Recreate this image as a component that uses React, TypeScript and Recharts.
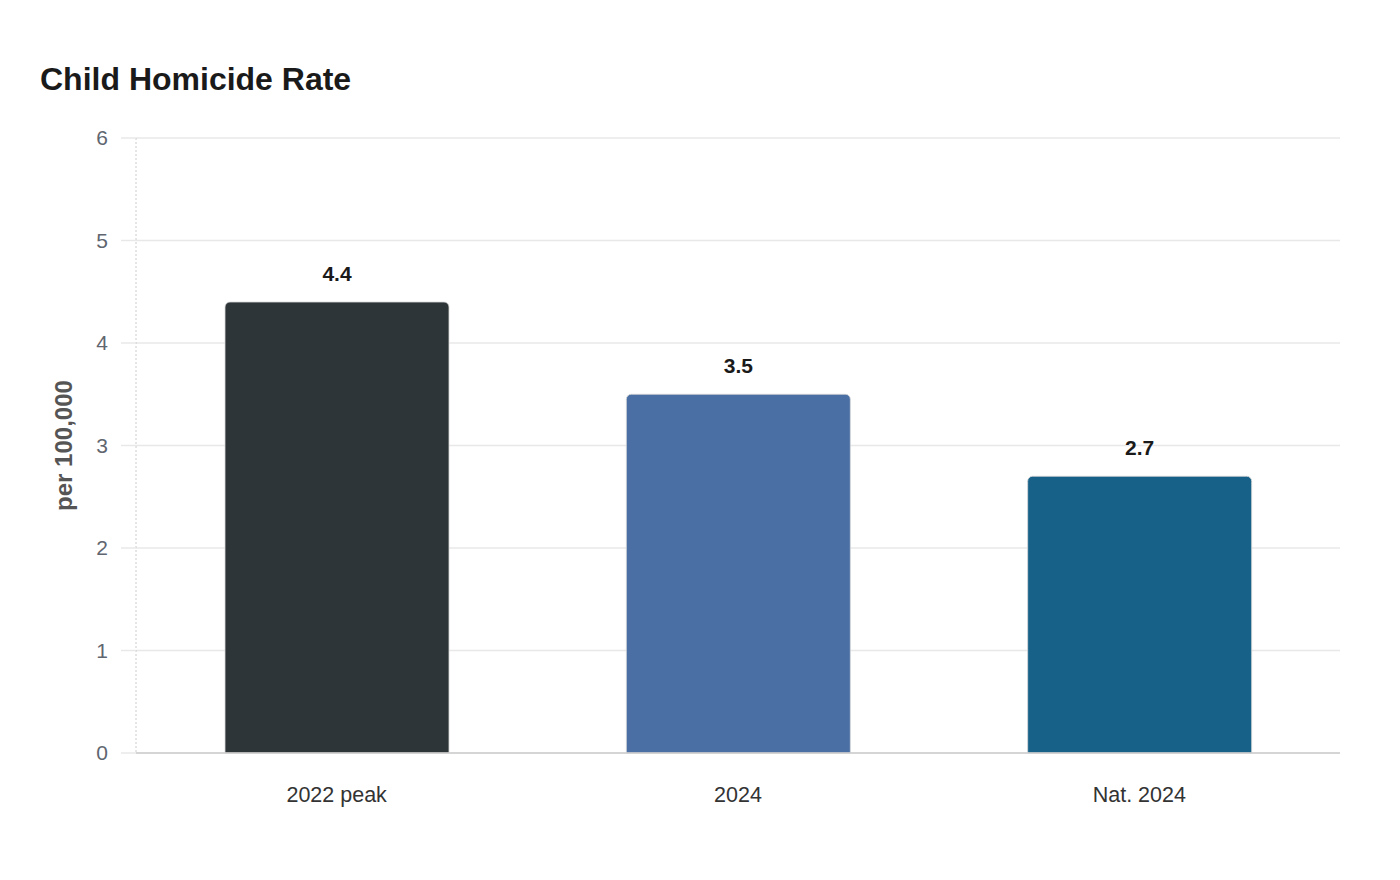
import { BarChart, Bar, XAxis, YAxis, CartesianGrid, Cell, LabelList } from "recharts";

const categories = ["2022 peak", "2024", "Nat. 2024"];
const rates = [4.4, 3.5, 2.7];
const barColors = ["#2e3538", "#4a6fa5", "#176087"];
const yTicks = [0, 1, 2, 3, 4, 5, 6];

const data = categories.map((name, i) => ({ name, rate: rates[i] }));

const FONT = '"Liberation Sans", Arial, sans-serif';

export default function App() {
    return (
        <div style={{ position: "relative", width: 1384, height: 864, fontFamily: FONT }}>
            <div
                style={{
                    position: "absolute",
                    left: 32,
                    top: 53,
                    fontSize: 32,
                    fontWeight: "bold",
                    color: "#1a1a1a",
                }}
            >
                Child Homicide Rate
            </div>
            <BarChart
                width={1384}
                height={864}
                data={data}
                margin={{ top: 130, right: 52, bottom: 59, left: 0 }}
            >
                <CartesianGrid vertical={false} stroke="#e8e8e8" strokeWidth={1.5} />
                <XAxis
                    dataKey="name"
                    height={60}
                    tickLine={false}
                    tickSize={0}
                    tickMargin={34}
                    axisLine={{ stroke: "#cccccc", strokeWidth: 1.5 }}
                    tick={{ fill: "#333333", fontSize: 21.5, fontFamily: FONT }}
                />
                <YAxis
                    width={128}
                    domain={[0, 6]}
                    ticks={yTicks}
                    interval={0}
                    tickSize={15}
                    tickMargin={13}
                    tickLine={{ stroke: "#e8e8e8", strokeWidth: 1.5 }}
                    axisLine={{ stroke: "#cccccc", strokeDasharray: "2 2" }}
                    tick={{ fill: "#5f6670", fontSize: 21, fontFamily: FONT }}
                    label={{
                        value: "per 100,000",
                        angle: -90,
                        position: "insideLeft",
                        offset: 55,
                        style: {
                            fill: "#555555",
                            fontSize: 24,
                            fontWeight: "bold",
                            fontFamily: FONT,
                            textAnchor: "middle",
                        },
                    }}
                />
                <Bar
                    dataKey="rate"
                    barSize={224}
                    radius={[5, 5, 0, 0]}
                    stroke="#d9d9d9"
                    strokeWidth={0.8}
                    isAnimationActive={false}
                >
                    {data.map((d, i) => (
                        <Cell key={d.name} fill={barColors[i]} />
                    ))}
                    <LabelList
                        dataKey="rate"
                        position="top"
                        offset={21}
                        formatter={(v: number) => v.toFixed(1)}
                        style={{ fill: "#1a1a1a", fontSize: 21, fontWeight: "bold", fontFamily: FONT }}
                    />
                </Bar>
            </BarChart>
        </div>
    );
}
